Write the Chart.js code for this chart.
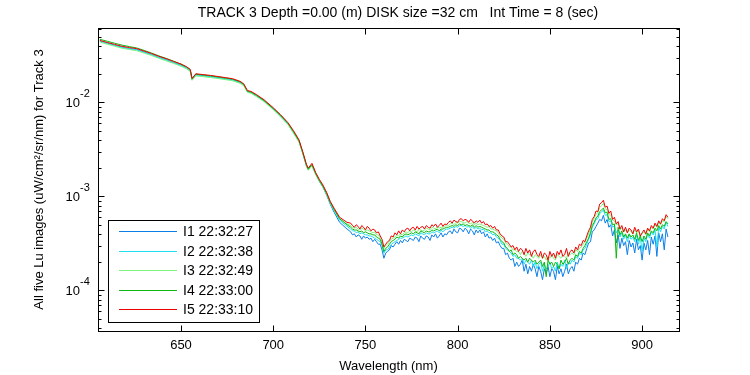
<!DOCTYPE html>
<html>
<head>
<meta charset="utf-8">
<script src="https://cdn.jsdelivr.net/npm/chart.js@4.4.1/dist/chart.umd.min.js"></script>
<style>
  html, body { margin: 0; padding: 0; background: #fff; }
  canvas { display: block; }
</style>
</head>
<body>
<canvas id="c" width="750" height="375"></canvas>
<script>
// ---------------- data ----------------
const TITLE = 'TRACK 3 Depth =0.00 (m) DISK size =32 cm   Int Time = 8 (sec)';
const X_TITLE = 'Wavelength (nm)';
const Y_TITLE = 'All five Lu images (uW/cm\u00B2/sr/nm) for Track 3';
const X_TICKS = [650, 700, 750, 800, 850, 900];
const Y_TICK_EXPONENTS = [-4, -3, -2];
const SERIES_LABELS = ['I1 22:32:27', 'I2 22:32:38', 'I3 22:32:49', 'I4 22:33:00', 'I5 22:33:10'];
const SERIES_COLORS = ['#0b7fe8', '#1ee0f0', '#7df57d', '#0db80d', '#f00000'];

const WAVELENGTHS = [
  606,610,614,618,622,626,630,634,638,642,646,650,653,655,656,658,662,666,670,674,678,682,
  684,686,688,691,695,700,704,708,711,714,716,718,719,721,723,725,727,729,731,733,736,740,
  742,743,744,745,746,747,748,749,750,751,
  752,753,754,755,756,757,758,759,760,761,
  762,763,764,765,766,767,768,769,770,771,
  772,773,774,775,776,777,778,779,780,781,
  782,783,784,785,786,787,788,789,790,791,
  792,793,794,795,796,797,798,799,800,801,
  802,803,804,805,806,807,808,809,810,811,
  812,813,814,815,816,817,818,819,820,821,
  822,823,824,825,826,827,828,829,830,831,
  832,833,834,835,836,837,838,839,840,841,
  842,843,844,845,846,847,848,849,850,851,
  852,853,854,855,856,857,858,859,860,861,
  862,863,864,865,866,867,868,869,870,871,
  872,873,874,875,876,877,878,879,880,881,
  882,883,884,885,886,887,888,889,890,891,
  892,893,894,895,896,897,898,899,900,901,
  902,903,904,905,906,907,908,909,910,911,
  912,913,914
];

const I1 = [
  4.50e-2,4.28e-2,4.07e-2,3.88e-2,3.75e-2,3.65e-2,3.44e-2,3.24e-2,3.02e-2,2.85e-2,2.66e-2,2.50e-2,2.34e-2,2.19e-2,1.76e-2,1.97e-2,1.93e-2,1.89e-2,1.84e-2,1.79e-2,1.74e-2,1.64e-2,
  1.54e-2,1.31e-2,1.28e-2,1.18e-2,1.04e-2,8.6e-3,7.2e-3,5.9e-3,4.8e-3,3.85e-3,2.9e-3,2.12e-3,1.93e-3,2.15e-3,1.73e-3,1.45e-3,1.25e-3,1.03e-3,8.2e-4,6.8e-4,5.3e-4,4.5e-4,
  42e-5,39e-5,40e-5,37e-5,39e-5,38e-5,35e-5,38e-5,36e-5,37e-5,
  35e-5,36e-5,33e-5,35e-5,33e-5,31e-5,31e-5,27e-5,22e-5,25e-5,
  26e-5,27e-5,30e-5,29e-5,31e-5,33e-5,31e-5,34e-5,32e-5,35e-5,
  34e-5,33e-5,36e-5,35e-5,34e-5,37e-5,36e-5,33e-5,38e-5,36e-5,
  35e-5,38e-5,37e-5,34e-5,39e-5,37e-5,40e-5,36e-5,38e-5,41e-5,
  37e-5,40e-5,39e-5,42e-5,43e-5,40e-5,45e-5,42e-5,41e-5,46e-5,
  45e-5,42e-5,46e-5,44e-5,40e-5,45e-5,43e-5,39e-5,44e-5,41e-5,
  44e-5,40e-5,42e-5,37e-5,40e-5,36e-5,37e-5,34e-5,36e-5,32e-5,
  33e-5,30e-5,28e-5,28e-5,24e-5,25e-5,22e-5,21e-5,22e-5,18e-5,
  20e-5,18e-5,19e-5,21e-5,16e-5,19e-5,15e-5,18e-5,16e-5,19e-5,
  17e-5,14e-5,18e-5,16e-5,13e-5,17e-5,15e-5,18e-5,14e-5,17e-5,
  16e-5,13e-5,18e-5,15e-5,17e-5,14e-5,16e-5,19e-5,15e-5,17e-5,
  18e-5,16e-5,20e-5,19e-5,22e-5,21e-5,25e-5,24e-5,28e-5,32e-5,
  33e-5,42e-5,44e-5,48e-5,52e-5,57e-5,55e-5,63e-5,52e-5,57e-5,
  47e-5,50e-5,38e-5,44e-5,32e-5,39e-5,28e-5,36e-5,30e-5,33e-5,
  24e-5,34e-5,29e-5,32e-5,25e-5,35e-5,27e-5,30e-5,21e-5,32e-5,
  27e-5,34e-5,24e-5,37e-5,31e-5,38e-5,23e-5,41e-5,33e-5,40e-5,
  27e-5,45e-5,37e-5
];
const I2 = [
  4.48e-2,4.25e-2,4.04e-2,3.85e-2,3.73e-2,3.63e-2,3.42e-2,3.22e-2,3.01e-2,2.83e-2,2.65e-2,2.48e-2,2.33e-2,2.18e-2,1.75e-2,1.96e-2,1.92e-2,1.88e-2,1.83e-2,1.78e-2,1.73e-2,1.63e-2,
  1.53e-2,1.30e-2,1.27e-2,1.17e-2,1.04e-2,8.5e-3,7.2e-3,5.9e-3,4.8e-3,3.85e-3,2.9e-3,2.12e-3,1.93e-3,2.15e-3,1.74e-3,1.46e-3,1.26e-3,1.05e-3,8.4e-4,7.1e-4,5.6e-4,4.8e-4,
  45e-5,43e-5,43e-5,41e-5,42e-5,40e-5,41e-5,40e-5,39e-5,39e-5,
  38e-5,38e-5,37e-5,36e-5,35e-5,34e-5,33e-5,30e-5,25e-5,27e-5,
  27e-5,29e-5,31e-5,32e-5,33e-5,34e-5,35e-5,36e-5,36e-5,37e-5,
  38e-5,37e-5,38e-5,39e-5,38e-5,40e-5,39e-5,38e-5,41e-5,40e-5,
  39e-5,41e-5,40e-5,40e-5,42e-5,41e-5,42e-5,43e-5,41e-5,44e-5,
  42e-5,44e-5,45e-5,45e-5,46e-5,47e-5,46e-5,48e-5,47e-5,49e-5,
  49e-5,48e-5,49e-5,47e-5,48e-5,46e-5,48e-5,45e-5,47e-5,45e-5,
  46e-5,44e-5,45e-5,42e-5,43e-5,41e-5,41e-5,39e-5,40e-5,37e-5,
  36e-5,34e-5,31e-5,31e-5,28e-5,27e-5,26e-5,25e-5,23e-5,24e-5,
  22e-5,22e-5,21e-5,22e-5,19e-5,21e-5,20e-5,19e-5,21e-5,18e-5,
  20e-5,17e-5,19e-5,20e-5,16e-5,19e-5,17e-5,18e-5,20e-5,17e-5,
  18e-5,16e-5,20e-5,17e-5,19e-5,18e-5,21e-5,17e-5,20e-5,19e-5,
  21e-5,20e-5,23e-5,22e-5,25e-5,24e-5,27e-5,28e-5,31e-5,35e-5,
  39e-5,47e-5,51e-5,57e-5,58e-5,66e-5,68e-5,72e-5,63e-5,64e-5,
  54e-5,55e-5,47e-5,49e-5,41e-5,44e-5,37e-5,41e-5,35e-5,39e-5,
  33e-5,39e-5,35e-5,37e-5,33e-5,39e-5,31e-5,37e-5,26e-5,36e-5,
  33e-5,40e-5,36e-5,42e-5,39e-5,44e-5,29e-5,47e-5,42e-5,48e-5,
  45e-5,53e-5,48e-5
];
const I3 = [
  4.40e-2,4.17e-2,3.97e-2,3.78e-2,3.66e-2,3.55e-2,3.35e-2,3.16e-2,2.95e-2,2.77e-2,2.60e-2,2.43e-2,2.28e-2,2.14e-2,1.72e-2,1.92e-2,1.88e-2,1.84e-2,1.80e-2,1.75e-2,1.70e-2,1.60e-2,
  1.51e-2,1.28e-2,1.25e-2,1.15e-2,1.02e-2,8.4e-3,7.0e-3,5.8e-3,4.7e-3,3.8e-3,2.85e-3,2.1e-3,1.9e-3,2.12e-3,1.72e-3,1.45e-3,1.26e-3,1.05e-3,8.5e-4,7.2e-4,5.8e-4,5.1e-4,
  49e-5,47e-5,46e-5,47e-5,45e-5,44e-5,46e-5,45e-5,43e-5,44e-5,
  43e-5,42e-5,41e-5,42e-5,39e-5,39e-5,36e-5,33e-5,28e-5,30e-5,
  31e-5,33e-5,35e-5,36e-5,37e-5,39e-5,38e-5,40e-5,39e-5,41e-5,
  42e-5,41e-5,43e-5,42e-5,44e-5,43e-5,42e-5,45e-5,44e-5,43e-5,
  44e-5,46e-5,45e-5,44e-5,47e-5,46e-5,45e-5,48e-5,46e-5,47e-5,
  47e-5,48e-5,50e-5,49e-5,51e-5,52e-5,50e-5,53e-5,52e-5,54e-5,
  54e-5,53e-5,52e-5,54e-5,52e-5,51e-5,53e-5,50e-5,52e-5,50e-5,
  51e-5,50e-5,49e-5,48e-5,47e-5,48e-5,45e-5,45e-5,44e-5,43e-5,
  41e-5,38e-5,36e-5,35e-5,32e-5,31e-5,29e-5,29e-5,27e-5,27e-5,
  26e-5,26e-5,24e-5,26e-5,25e-5,23e-5,25e-5,24e-5,24e-5,22e-5,
  24e-5,23e-5,22e-5,24e-5,22e-5,23e-5,21e-5,23e-5,22e-5,24e-5,
  22e-5,21e-5,24e-5,23e-5,22e-5,24e-5,23e-5,22e-5,25e-5,24e-5,
  25e-5,24e-5,27e-5,26e-5,28e-5,29e-5,31e-5,33e-5,36e-5,40e-5,
  45e-5,53e-5,59e-5,64e-5,68e-5,76e-5,80e-5,84e-5,74e-5,72e-5,
  64e-5,63e-5,56e-5,55e-5,50e-5,51e-5,44e-5,46e-5,42e-5,44e-5,
  41e-5,44e-5,42e-5,40e-5,44e-5,41e-5,43e-5,37e-5,40e-5,42e-5,
  39e-5,45e-5,42e-5,47e-5,45e-5,50e-5,47e-5,53e-5,50e-5,55e-5,
  54e-5,61e-5,58e-5
];
const I4 = [
  4.70e-2,4.48e-2,4.27e-2,4.08e-2,3.93e-2,3.80e-2,3.58e-2,3.36e-2,3.13e-2,2.94e-2,2.75e-2,2.56e-2,2.39e-2,2.23e-2,1.79e-2,2.00e-2,1.96e-2,1.92e-2,1.87e-2,1.82e-2,1.77e-2,1.66e-2,
  1.56e-2,1.32e-2,1.29e-2,1.19e-2,1.05e-2,8.6e-3,7.3e-3,6.0e-3,4.9e-3,3.9e-3,2.95e-3,2.15e-3,1.95e-3,2.18e-3,1.76e-3,1.48e-3,1.28e-3,1.07e-3,8.6e-4,7.3e-4,5.8e-4,5.0e-4,
  47e-5,45e-5,44e-5,44e-5,43e-5,42e-5,43e-5,41e-5,42e-5,41e-5,
  40e-5,40e-5,39e-5,39e-5,37e-5,36e-5,35e-5,31e-5,26e-5,28e-5,
  29e-5,31e-5,33e-5,34e-5,35e-5,37e-5,36e-5,38e-5,37e-5,39e-5,
  40e-5,39e-5,40e-5,41e-5,40e-5,42e-5,41e-5,40e-5,43e-5,42e-5,
  41e-5,43e-5,42e-5,42e-5,44e-5,43e-5,44e-5,45e-5,43e-5,45e-5,
  45e-5,46e-5,47e-5,47e-5,48e-5,49e-5,48e-5,50e-5,49e-5,51e-5,
  50e-5,51e-5,49e-5,50e-5,49e-5,48e-5,50e-5,47e-5,49e-5,47e-5,
  48e-5,47e-5,46e-5,45e-5,44e-5,44e-5,42e-5,42e-5,41e-5,39e-5,
  38e-5,35e-5,33e-5,32e-5,29e-5,28e-5,26e-5,27e-5,24e-5,25e-5,
  24e-5,22e-5,23e-5,22e-5,21e-5,22e-5,20e-5,22e-5,21e-5,20e-5,
  21e-5,19e-5,20e-5,21e-5,18e-5,20e-5,14e-5,21e-5,19e-5,20e-5,
  18e-5,20e-5,19e-5,17e-5,21e-5,19e-5,20e-5,22e-5,19e-5,21e-5,
  22e-5,21e-5,24e-5,23e-5,26e-5,25e-5,28e-5,30e-5,33e-5,36e-5,
  41e-5,49e-5,53e-5,59e-5,62e-5,69e-5,72e-5,75e-5,67e-5,68e-5,
  57e-5,58e-5,50e-5,51e-5,22e-5,47e-5,39e-5,43e-5,37e-5,40e-5,
  36e-5,40e-5,37e-5,39e-5,35e-5,41e-5,34e-5,38e-5,33e-5,38e-5,
  35e-5,41e-5,38e-5,43e-5,41e-5,46e-5,43e-5,49e-5,45e-5,50e-5,
  48e-5,54e-5,51e-5
];
const I5 = [
  4.57e-2,4.35e-2,4.15e-2,3.96e-2,3.84e-2,3.74e-2,3.52e-2,3.32e-2,3.10e-2,2.92e-2,2.73e-2,2.56e-2,2.40e-2,2.25e-2,1.80e-2,2.02e-2,1.98e-2,1.94e-2,1.89e-2,1.84e-2,1.79e-2,1.68e-2,
  1.58e-2,1.34e-2,1.31e-2,1.21e-2,1.07e-2,8.8e-3,7.4e-3,6.1e-3,5.0e-3,4.0e-3,3.0e-3,2.2e-3,2.0e-3,2.25e-3,1.80e-3,1.52e-3,1.32e-3,1.10e-3,8.8e-4,7.5e-4,6.0e-4,5.3e-4,
  52e-5,49e-5,47e-5,50e-5,48e-5,45e-5,49e-5,47e-5,44e-5,48e-5,
  46e-5,43e-5,45e-5,44e-5,41e-5,42e-5,38e-5,35e-5,29e-5,31e-5,
  33e-5,34e-5,38e-5,37e-5,41e-5,39e-5,43e-5,40e-5,44e-5,42e-5,
  45e-5,46e-5,43e-5,46e-5,47e-5,44e-5,48e-5,45e-5,47e-5,48e-5,
  45e-5,49e-5,47e-5,46e-5,50e-5,48e-5,51e-5,47e-5,49e-5,52e-5,
  48e-5,51e-5,50e-5,53e-5,55e-5,52e-5,56e-5,54e-5,53e-5,57e-5,
  58e-5,55e-5,57e-5,56e-5,53e-5,57e-5,55e-5,52e-5,55e-5,53e-5,
  56e-5,52e-5,54e-5,50e-5,51e-5,48e-5,49e-5,46e-5,48e-5,44e-5,
  44e-5,40e-5,38e-5,37e-5,33e-5,33e-5,31e-5,29e-5,30e-5,27e-5,
  29e-5,26e-5,28e-5,27e-5,24e-5,28e-5,25e-5,27e-5,23e-5,26e-5,
  27e-5,24e-5,23e-5,26e-5,22e-5,25e-5,24e-5,21e-5,26e-5,23e-5,
  25e-5,22e-5,26e-5,24e-5,27e-5,23e-5,24e-5,28e-5,23e-5,26e-5,
  27e-5,25e-5,29e-5,27e-5,31e-5,30e-5,34e-5,33e-5,38e-5,43e-5,
  47e-5,57e-5,61e-5,70e-5,69e-5,83e-5,86e-5,91e-5,77e-5,79e-5,
  66e-5,70e-5,57e-5,60e-5,51e-5,54e-5,45e-5,49e-5,42e-5,47e-5,
  41e-5,46e-5,44e-5,40e-5,47e-5,42e-5,45e-5,38e-5,41e-5,44e-5,
  40e-5,46e-5,43e-5,49e-5,46e-5,52e-5,48e-5,55e-5,51e-5,58e-5,
  55e-5,64e-5,60e-5
];
const SERIES = [I1, I2, I3, I4, I5];

// ---------------- layout constants ----------------
const FONT = 'Liberation Sans, Arial, Helvetica, sans-serif';
const X_MIN = 605, X_MAX = 920;
const Y_MIN = 3.7e-5, Y_MAX = 0.062;

const datasets = SERIES.map((vals, k) => ({
  label: SERIES_LABELS[k],
  data: WAVELENGTHS.map((w, i) => ({ x: w, y: vals[i] })),
  borderColor: SERIES_COLORS[k],
  backgroundColor: SERIES_COLORS[k],
  borderWidth: 1,
  pointRadius: 0,
  tension: 0,
  fill: false,
  order: SERIES.length - 1 - k
}));

const decorPlugin = {
  id: 'decor',
  afterDatasetsDraw(chart) {
    const ctx = chart.ctx;
    const a = chart.chartArea;
    const xs = chart.scales.x, ys = chart.scales.y;
    const L = Math.round(a.left) + 0.5, R = Math.round(a.right) + 0.5;
    const T = Math.round(a.top) + 0.5, B = Math.round(a.bottom) + 0.5;
    ctx.save();
    ctx.strokeStyle = '#000';
    ctx.lineWidth = 1;
    ctx.beginPath();
    X_TICKS.forEach(v => {
      const px = Math.round(xs.getPixelForValue(v)) + 0.5;
      ctx.moveTo(px, B); ctx.lineTo(px, B - 6);
      ctx.moveTo(px, T); ctx.lineTo(px, T + 6);
    });
    for (let e = -5; e <= -1; e++) {
      for (let m = 1; m <= 9; m++) {
        const v = m * Math.pow(10, e);
        if (v < Y_MIN || v > Y_MAX) continue;
        const py = Math.round(ys.getPixelForValue(v)) + 0.5;
        const len = m === 1 ? 6 : 3;
        ctx.moveTo(L, py); ctx.lineTo(L + len, py);
        ctx.moveTo(R, py); ctx.lineTo(R - len, py);
      }
    }
    ctx.stroke();
    ctx.strokeRect(L, T, R - L, B - T);

    // legend box
    const bx = 108.5, by = 220.5, bw = 151, bh = 102;
    ctx.fillStyle = '#fff';
    ctx.fillRect(bx, by, bw, bh);
    ctx.strokeRect(bx, by, bw, bh);
    ctx.font = '14px ' + FONT;
    ctx.textBaseline = 'middle';
    ctx.textAlign = 'left';
    chart.data.datasets.forEach((ds, k) => {
      const yy = Math.round(231 + k * 19.5) + 0.5;
      ctx.beginPath();
      ctx.strokeStyle = ds.borderColor;
      ctx.moveTo(119, yy); ctx.lineTo(177, yy);
      ctx.stroke();
      ctx.fillStyle = '#000';
      ctx.fillText(ds.label, 183, yy + 1);
    });

    // y tick labels 10^n
    ctx.fillStyle = '#000';
    Y_TICK_EXPONENTS.forEach(e => {
      const py = ys.getPixelForValue(Math.pow(10, e));
      ctx.font = '13px ' + FONT;
      ctx.textAlign = 'right';
      ctx.textBaseline = 'middle';
      ctx.fillText('10', 80, py + 1);
      ctx.font = '11px ' + FONT;
      ctx.textAlign = 'left';
      ctx.fillText(String(e), 80, py - 8);
    });

    // title
    ctx.font = '14px ' + FONT;
    ctx.textAlign = 'center';
    ctx.textBaseline = 'middle';
    ctx.fillText(TITLE, 398, 13);
    ctx.restore();
  }
};

new Chart(document.getElementById('c'), {
  type: 'line',
  data: { datasets },
  options: {
    responsive: false,
    animation: false,
    devicePixelRatio: 1,
    layout: { padding: { top: 28, right: 71, left: 0, bottom: 0 } },
    plugins: {
      legend: { display: false },
      title: { display: false },
      tooltip: { enabled: false }
    },
    scales: {
      x: {
        type: 'linear',
        min: X_MIN, max: X_MAX,
        afterBuildTicks: s => { s.ticks = X_TICKS.map(v => ({ value: v })); },
        afterFit: s => { s.height = 44; },
        grid: { display: false, drawTicks: false },
        border: { display: false },
        ticks: {
          color: '#000', font: { family: FONT, size: 13 },
          padding: 7, maxRotation: 0, autoSkip: false,
          callback: v => String(v)
        },
        title: {
          display: true, text: X_TITLE, color: '#000',
          font: { family: FONT, size: 13 }, padding: { top: 0, bottom: 1 }
        }
      },
      y: {
        type: 'logarithmic',
        min: Y_MIN, max: Y_MAX,
        afterBuildTicks: s => { s.ticks = Y_TICK_EXPONENTS.map(e => ({ value: Math.pow(10, e) })); },
        afterFit: s => { s.width = 98; },
        grid: { display: false, drawTicks: false },
        border: { display: false },
        ticks: { display: false },
        title: {
          display: true, text: Y_TITLE, color: '#000',
          font: { family: FONT, size: 13 }, padding: { top: 32, bottom: 0 }
        }
      }
    }
  },
  plugins: [decorPlugin]
});
</script>
</body>
</html>
